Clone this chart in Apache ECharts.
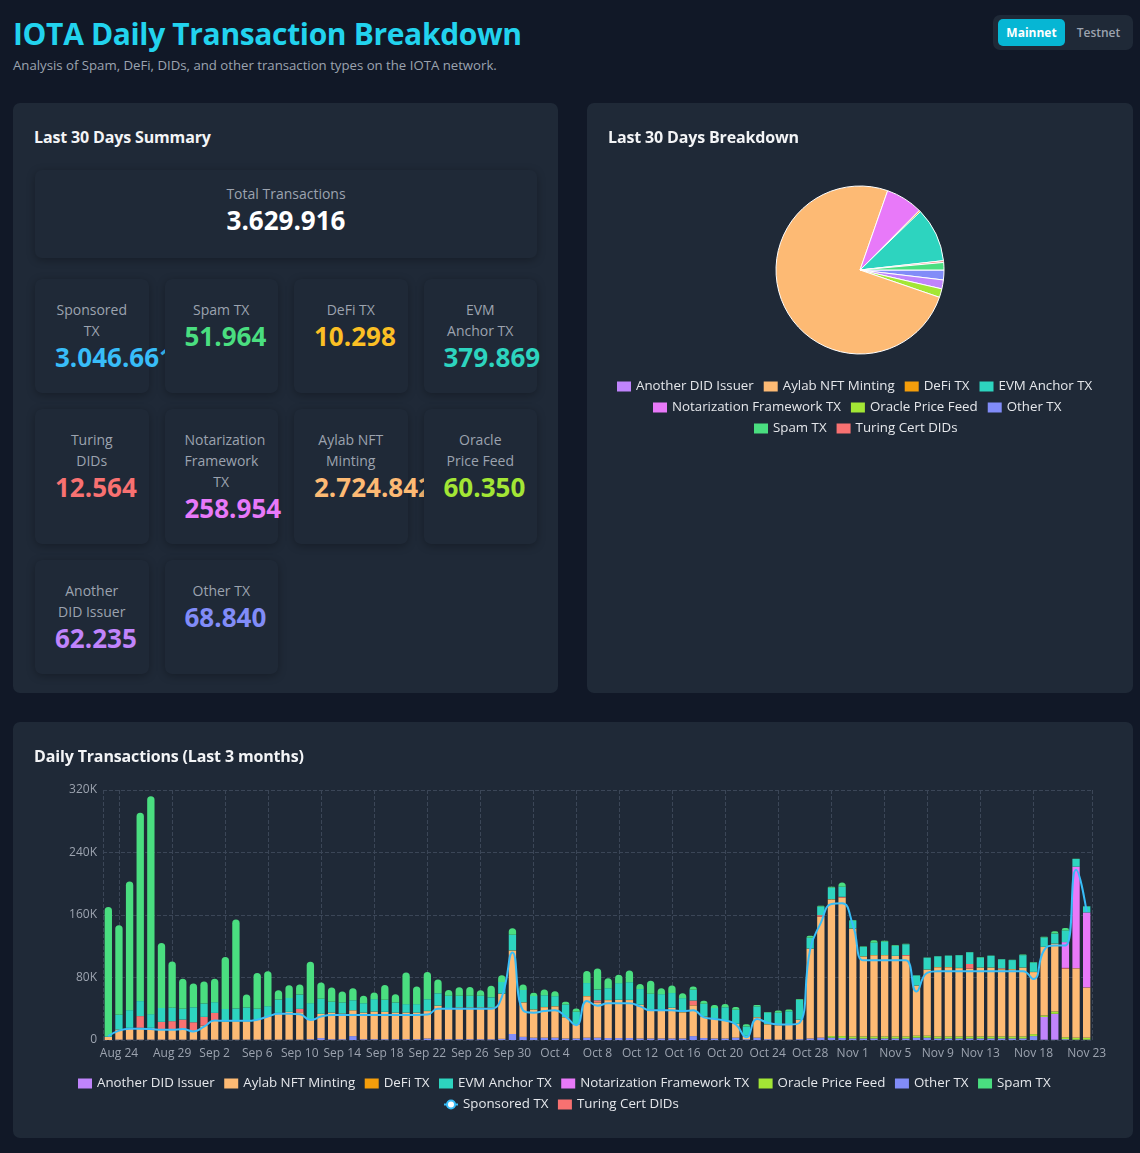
<!DOCTYPE html>
<html>
<head>
<meta charset="utf-8">
<script src="https://cdn.jsdelivr.net/npm/echarts@6/dist/echarts.min.js"></script>
<style>
html,body{margin:0;padding:0;background:#111827;width:1140px;height:1153px;overflow:hidden;font-family:'Open Sans','Noto Sans',sans-serif;}
#title{position:absolute;left:13px;top:13px;font-size:30px;font-weight:700;color:#22d3ee;line-height:42px;white-space:nowrap;letter-spacing:-0.35px;}
#subtitle{position:absolute;left:13px;top:56px;font-size:13.2px;color:#9ca3af;line-height:18px;white-space:nowrap;}
#toggle{position:absolute;left:993px;top:15px;width:140px;height:35px;background:#1f2937;border-radius:7px;}
#toggle .on{position:absolute;left:5px;top:4px;width:67px;height:27px;background:#06b6d4;border-radius:5px;color:#fff;font-weight:700;font-size:12px;line-height:27px;text-align:center;}
#toggle .off{position:absolute;left:74px;top:4px;width:63px;height:27px;color:#9ca3af;font-size:12px;line-height:27px;text-align:center;font-weight:600;}
.card{position:absolute;background:#1f2937;border-radius:7px;}
.card h2{position:absolute;left:21px;top:22px;margin:0;font-size:16px;font-weight:700;color:#f3f4f6;line-height:24px;white-space:nowrap;z-index:2;letter-spacing:-0.15px;}
#totalBox{position:absolute;left:22px;top:67px;width:502px;height:88px;border-radius:7px;box-shadow:0 2px 8px rgba(0,0,0,0.28);text-align:center;}
#totalBox .lbl{position:absolute;left:0;right:0;top:13px;font-size:14px;line-height:21px;color:#9ca3af;}
#totalBox .val{position:absolute;left:0;right:0;top:34px;font-size:26px;line-height:32px;font-weight:700;color:#ffffff;}
#grid{position:absolute;left:22px;top:176px;width:502px;display:grid;grid-template-columns:repeat(4,1fr);gap:16px;}
.stat{position:relative;padding:20px;border-radius:7px;background:#1f2937;box-shadow:0 2px 8px rgba(0,0,0,0.28);text-align:center;min-width:0;}
.stat .lbl{font-size:14px;line-height:21px;color:#9ca3af;}
.stat .val{font-size:26px;line-height:32px;font-weight:700;white-space:nowrap;text-align:left;}
#pieChart{position:absolute;left:0;top:0;width:546px;height:590px;}
#barChart{position:absolute;left:0;top:0;width:1120px;height:416px;}
</style>
</head>
<body>
<div id="title">IOTA Daily Transaction Breakdown</div>
<div id="subtitle">Analysis of Spam, DeFi, DIDs, and other transaction types on the IOTA network.</div>
<div id="toggle"><div class="on">Mainnet</div><div class="off">Testnet</div></div>

<div class="card" style="left:13px;top:103px;width:545px;height:590px;">
  <h2>Last 30 Days Summary</h2>
  <div id="totalBox"><div class="lbl">Total Transactions</div><div class="val" id="totalVal"></div></div>
  <div id="grid"></div>
</div>

<div class="card" style="left:587px;top:103px;width:546px;height:590px;">
  <h2>Last 30 Days Breakdown</h2>
  <div id="pieChart"></div>
</div>

<div class="card" style="left:13px;top:722px;width:1120px;height:416px;">
  <h2>Daily Transactions (Last 3 months)</h2>
  <div id="barChart"></div>
</div>

<script>
// ---------- summary (last 30 days) ----------
const totalTransactions = 3629916;
const summaryNames = ['Sponsored TX','Spam TX','DeFi TX','EVM Anchor TX','Turing DIDs','Notarization Framework TX','Aylab NFT Minting','Oracle Price Feed','Another DID Issuer','Other TX'];
const summaryTotals = [3046661, 51964, 10298, 379869, 12564, 258954, 2724842, 60350, 62235, 68840];
const summaryColors = ['#38bdf8','#4ade80','#fbbf24','#2dd4bf','#f87171','#e879f9','#fdba74','#a3e635','#c084fc','#818cf8'];

// ---------- pie (last 30 days breakdown) ----------
const pieNames = ['Other TX','Another DID Issuer','Oracle Price Feed','Aylab NFT Minting','Notarization Framework TX','DeFi TX','EVM Anchor TX','Turing Cert DIDs','Spam TX'];
const pieValues = [68840, 62235, 60350, 2724842, 258954, 10298, 379869, 12564, 51964];

// ---------- daily (values in thousands) ----------
const dates = ['Aug 23','Aug 24','Aug 25','Aug 26','Aug 27','Aug 28','Aug 29','Aug 30','Aug 31',
'Sep 1','Sep 2','Sep 3','Sep 4','Sep 5','Sep 6','Sep 7','Sep 8','Sep 9','Sep 10','Sep 11','Sep 12','Sep 13','Sep 14','Sep 15','Sep 16','Sep 17','Sep 18','Sep 19','Sep 20','Sep 21','Sep 22','Sep 23','Sep 24','Sep 25','Sep 26','Sep 27','Sep 28','Sep 29','Sep 30',
'Oct 1','Oct 2','Oct 3','Oct 4','Oct 5','Oct 6','Oct 7','Oct 8','Oct 9','Oct 10','Oct 11','Oct 12','Oct 13','Oct 14','Oct 15','Oct 16','Oct 17','Oct 18','Oct 19','Oct 20','Oct 21','Oct 22','Oct 23','Oct 24','Oct 25','Oct 26','Oct 27','Oct 28','Oct 29','Oct 30','Oct 31',
'Nov 1','Nov 2','Nov 3','Nov 4','Nov 5','Nov 6','Nov 7','Nov 8','Nov 9','Nov 10','Nov 11','Nov 12','Nov 13','Nov 14','Nov 15','Nov 16','Nov 17','Nov 18','Nov 19','Nov 20','Nov 21','Nov 22','Nov 23'];
const xTickLabels = ['Aug 24','Aug 29','Sep 2','Sep 6','Sep 10','Sep 14','Sep 18','Sep 22','Sep 26','Sep 30','Oct 4','Oct 8','Oct 12','Oct 16','Oct 20','Oct 24','Oct 28','Nov 1','Nov 5','Nov 9','Nov 13','Nov 18','Nov 23'];
const xGridDates = ['Aug 24','Aug 29','Sep 3','Sep 7','Sep 12','Sep 17','Sep 22','Sep 27','Oct 2','Oct 6','Oct 10','Oct 15','Oct 20','Oct 25','Oct 30','Nov 4','Nov 8','Nov 13','Nov 18'];
const yTicks = [0, 80, 160, 240, 320];

const otherTx = [0,0.5,0.5,0.5,0.5,0.5,0.5,0.5,0.5,0.5,
 0.5,0.5,0.5,0.5,0.5,0.5,0.5,0.5,0.5,1,
 2.5,1,1,5,1,1,1,1,1,1,
 2,1,1,1,1,1,1,1.5,7.7,4,
 3,3,3,2,2,3,3,2.5,2.5,2.5,
 2,2,2,2,2,5,2.5,2,2,3,
 1,3,1,0.5,0.5,1,2,3,3,2.5,
 2,2,2,2,2,2,3,3,2,2,
 2,2,2,2,2,2,2,5,0.5,0.5,
 1,0.5,0.5];
const anotherDid = [0,0,0,0,0,0,0,0,0,0, 0,0,0,0,0,0,0,0,0,0, 0,0,0,0,0,0,0,0,0,0,
 0,0,0,0,0,0,0,0,0,0, 0,0,0,0,0,0,0,0,0,0, 0,0,0,0,0,0,0,0,0,0,
 0,0,0,0,0,0,0,0,0,0, 0,0,0,0,0,0,0,0,0,0, 0,0,0,0,0,0,0,0,29,33,
 0,0,0];
const oracleFeed = [0,0,0,0,0,0,0,0,0,0, 0,0,0,0,0,0,0,0,0,0, 0,0,0,0,0,0,0,0,0,0,
 0,0,0,0,0,0,0,0,0,0, 0,0,0,0,0,0,0,0,0,0, 0,0,0,0,0,0,0,0,0,0,
 0,0,0,0,0,0,0,0,2,2.5,
 2.5,2.5,2.5,2.5,2.5,2.5,2.5,2.5,2.5,2.5,
 2.5,2.5,2.5,2.5,2.5,2.5,2.5,2.5,2,3,
 2.5,2.5,2.5];
const aylabNft = [4,12.8,15,15,15,12.8,12.8,13.7,11.9,17.9,
 24.7,23,23.5,23.5,25.6,29.9,34.1,35.4,35,25.6,
 31,34.1,32.9,33,34.1,35.4,35,34.1,34.1,34.1,
 35,42.7,39.3,40.5,40.5,40.5,40.5,57.6,106.7,44,
 36,39,40,27,18,53,45,48.5,48.7,48.6,
 42.9,37,36.4,39,33.4,39.3,27.4,25,23,17.5,
 4,26,19,18.3,19,24.7,114.8,154.5,175,177,
 138,102.4,104,104,103,103,64,84.5,88.6,88.6,
 87.5,86.5,88,88,86,86,88,79.4,87.5,86.6,
 87.5,88.6,64];
const defiTx = [0.1,0.1,0.1,0.1,0.1,0.1,0.1,0.1,0.1,0.1, 0.1,0.1,0.1,0.1,0.1,0.1,0.1,0.1,0.1,0.1, 0.1,0.1,0.1,0.1,0.1,0.1,0.1,0.1,0.1,0.1,
 0.3,0.3,0.3,0.3,0.3,0.3,0.3,0.3,0.3,0.3, 0.3,0.3,0.3,0.3,0.3,0.3,0.3,0.3,0.3,0.3, 0.3,0.3,0.3,0.3,0.3,0.3,0.3,0.3,0.3,0.3,
 0.3,0.3,0.3,0.3,0.3,0.3,0.3,0.3,0.3,0.3, 0.3,0.3,0.3,0.3,0.3,0.3,0.3,0.3,0.3,0.3, 0.3,0.3,0.3,0.3,0.3,0.3,0.3,0.3,0.3,0.3,
 0.3,0.3,0.3];
const turingDids = [0,0,0,15,0,9.8,10.7,11.9,10.2,11.1,
 9.4,0,0,0,0,0,0,0,4.3,0,
 0,0,0,0,0,0,0,0,0,0,
 0,0,0,0,0,0,0,0,0,0,
 0,0,0,0,0,0,2.5,0,0,0,
 0,0,0,0,0,6,0,0,0,0,
 0,0,0,0,0,0,0,2,0,1,
 0,0,0,0,0,1,0,0,0,0,
 0,6,0,0,1,0,0,0,0,0,
 1,0,0];
const notarization = [0,0,0,0,0,0,0,0,0,0, 0,0,0,0,0,0,0,0,0,0, 0,0,0,0,0,0,0,0,0,0,
 0,0,0,0,0,0,0,0,0,0, 0,0,0,0,0,0,0,0,0,0, 0,0,0,0,0,0,0,0,0,0,
 0,0,0,0,0,0,0,0,0,0, 0,0,0,0,0,0,0,0,0,0, 0,0,0,0,0,0,0,0,0,0,
 33,130,96];
const evmAnchor = [1,18.8,22.6,19.2,17.5,17.9,17.1,13.7,19.2,17.1,
 13.7,16.2,16.2,17.5,13.7,12.8,17.1,17.9,18.3,20.5,
 19.2,13.7,14.1,12.8,11.9,15.8,15.4,12.8,10.7,10.7,
 14.9,15.8,16.2,14.9,14.9,14.9,12.8,14.9,20,15.8,
 17,15,12.8,16.2,15.8,16.6,13.7,15,21.3,22.6,
 20,20,20,18.8,17.9,13.7,16.2,13.7,16.6,17.9,
 12,13.7,15,15.8,17,25.6,13.7,10.7,14.5,12.8,
 9.8,12,15.8,17,12.8,13.7,12.8,15,13.7,14.5,
 16.2,15,12.8,15,11.5,11.5,15.8,12,12,12.8,
 15,9.8,7.7];
const spamTx = [165,114.8,164.7,241,279,83.2,59.3,38.4,30.3,28.2,
 29.9,66.6,113.9,16.6,46,44.8,12,16.3,12.8,52.9,
 20.9,18.3,14.1,15.5,9.4,8.5,18.8,10.7,40.5,22.6,
 34.8,17.5,7.3,10.7,11.2,6.9,15,8.5,8.5,6.8,
 4.3,7.3,6.4,3.4,4.3,15.4,26.9,12.8,10.7,15,
 6.4,16.6,7.7,9.8,6.4,4.3,3.8,3.8,4.3,3.4,
 3,1.7,0.5,3,2.1,0.9,2.6,1.3,1.3,5.5,
 0.9,0.5,3,1.3,0.9,0.6,0.3,0.3,0.5,0.3,
 0.3,0.5,0.5,0.5,0.5,0.5,1,0.5,0.9,3,
 3,0.3,0.3];
const sponsoredTx = [5,12,14.5,14.5,14,13,13,14,11,17,
 25,24.5,24.5,24.5,26,30,33.5,33.5,33,25.5,
 30,32,32,32,32,32,32,32,32,32,
 32.5,40,40,40,40,40,40,55,112,38,
 35,37,38,30,19,50,44,47,47,47,
 43,38,38,38,37,38,29,27,25,20,
 3.5,27,22,20,20,22,116,150,174,175,
 148,102,102,102,102,102,62,86,88,88,
 88,88,88,88,88,88,88,78,115,121,
 121,218,164];

const FONT = "'Open Sans', sans-serif";
const COLORS = {
  'Another DID Issuer':'#c084fc','Aylab NFT Minting':'#fdba74','DeFi TX':'#f59e0b','EVM Anchor TX':'#2dd4bf',
  'Notarization Framework TX':'#e879f9','Oracle Price Feed':'#a3e635','Other TX':'#818cf8','Spam TX':'#4ade80',
  'Sponsored TX':'#38bdf8','Turing Cert DIDs':'#f87171'
};

function fmt(n){ return String(n).replace(/\B(?=(\d{3})+(?!\d))/g, '.'); }

document.getElementById('totalVal').textContent = fmt(totalTransactions);
const grid = document.getElementById('grid');
summaryNames.forEach((n,i)=>{
  const d = document.createElement('div');
  d.className = 'stat';
  d.innerHTML = '<div class="lbl">'+n+'</div><div class="val" style="color:'+summaryColors[i]+'">'+fmt(summaryTotals[i])+'</div>';
  grid.appendChild(d);
});
// centre values that fit, let wider ones overflow to the right (covered by the next card)
document.querySelectorAll('.stat .val').forEach(v=>{
  if (v.scrollWidth <= v.clientWidth) v.style.textAlign = 'center';
});

const legendText = {color:'#e5e7eb', fontSize:13.3, fontFamily:FONT};
function rectItem(n){ return {name:n, icon:'rect', itemStyle:{color:COLORS[n], borderWidth:0}}; }

// ---------- pie chart ----------
const pieRows = [
  ['Another DID Issuer','Aylab NFT Minting','DeFi TX','EVM Anchor TX'],
  ['Notarization Framework TX','Oracle Price Feed','Other TX'],
  ['Spam TX','Turing Cert DIDs']
];
const pieRowLeft = [25, 61, 162];
const pie = echarts.init(document.getElementById('pieChart'), null, {renderer:'canvas'});
pie.setOption({
  animation:false,
  legend: pieRows.map((row,k)=>({
    data: row.map(rectItem),
    top: 272 + k*21, left: pieRowLeft[k], itemWidth:14, itemHeight:10, itemGap:10,
    textStyle: legendText
  })),
  series:[{
    type:'pie', radius:84, center:[273,167], startAngle:0, clockwise:true,
    label:{show:false}, labelLine:{show:false},
    itemStyle:{borderColor:'#ffffff', borderWidth:1},
    data: pieNames.map((n,i)=>({name:n, value:pieValues[i], itemStyle:{color:COLORS[n]}}))
  }]
});

// ---------- bar chart ----------
const stackSeries = [
  ['Other TX', otherTx], ['Another DID Issuer', anotherDid], ['Oracle Price Feed', oracleFeed],
  ['Aylab NFT Minting', aylabNft], ['DeFi TX', defiTx], ['Turing Cert DIDs', turingDids],
  ['Notarization Framework TX', notarization], ['EVM Anchor TX', evmAnchor], ['Spam TX', spamTx]
];
const barRows = [
  ['Another DID Issuer','Aylab NFT Minting','DeFi TX','EVM Anchor TX','Notarization Framework TX','Oracle Price Feed','Other TX','Spam TX'],
  ['Sponsored TX','Turing Cert DIDs']
];
const barRowLeft = [60, 425];
const gridLine = {type:'dashed', color:'#3b4657', width:1};
const bar = echarts.init(document.getElementById('barChart'), null, {renderer:'canvas'});
const series = stackSeries.map(([n,d])=>({
  name:n, type:'bar', stack:'total', data:d,
  itemStyle:{color:COLORS[n], borderRadius: n==='Spam TX' ? [4,4,0,0] : 0}
}));
series.push({
  name:'Sponsored TX', type:'line', data:sponsoredTx, smooth:true, showSymbol:false, symbol:'emptyCircle',
  lineStyle:{width:2, color:COLORS['Sponsored TX']}, itemStyle:{color:COLORS['Sponsored TX']}, z:5
});
bar.setOption({
  animation:false,
  grid:{left:90, right:41, top:68, bottom:98, containLabel:false},
  legend: barRows.map((row,k)=>({
    data: row.map(n=> n==='Sponsored TX' ? {name:n} : rectItem(n)),
    top: 350 + k*21, left: barRowLeft[k], itemWidth:14, itemHeight:10, itemGap:9.5,
    textStyle: legendText
  })),
  xAxis:[{
    type:'category', data:dates, boundaryGap:true,
    axisLine:{show:false}, axisTick:{show:false},
    axisLabel:{interval:(i,v)=>xTickLabels.includes(v), color:'#9ca3af', fontSize:12, fontFamily:FONT, margin:8},
    splitLine:{show:true, interval:(i,v)=>xGridDates.includes(v), alignWithLabel:true, lineStyle:gridLine}
  },{
    type:'value', min:0, max:1, interval:1, position:'top',
    axisLine:{show:false}, axisTick:{show:false}, axisLabel:{show:false},
    splitLine:{show:true, lineStyle:gridLine}
  }],
  yAxis:{
    type:'value', min:yTicks[0], max:yTicks[yTicks.length-1], interval:yTicks[1]-yTicks[0],
    axisLine:{show:false}, axisTick:{show:false},
    axisLabel:{color:'#9ca3af', fontSize:12, fontFamily:FONT, margin:6, formatter:v=> v===0 ? '0' : v+'K'},
    splitLine:{show:true, lineStyle:gridLine}
  },
  series: series
});
</script>
</body>
</html>
